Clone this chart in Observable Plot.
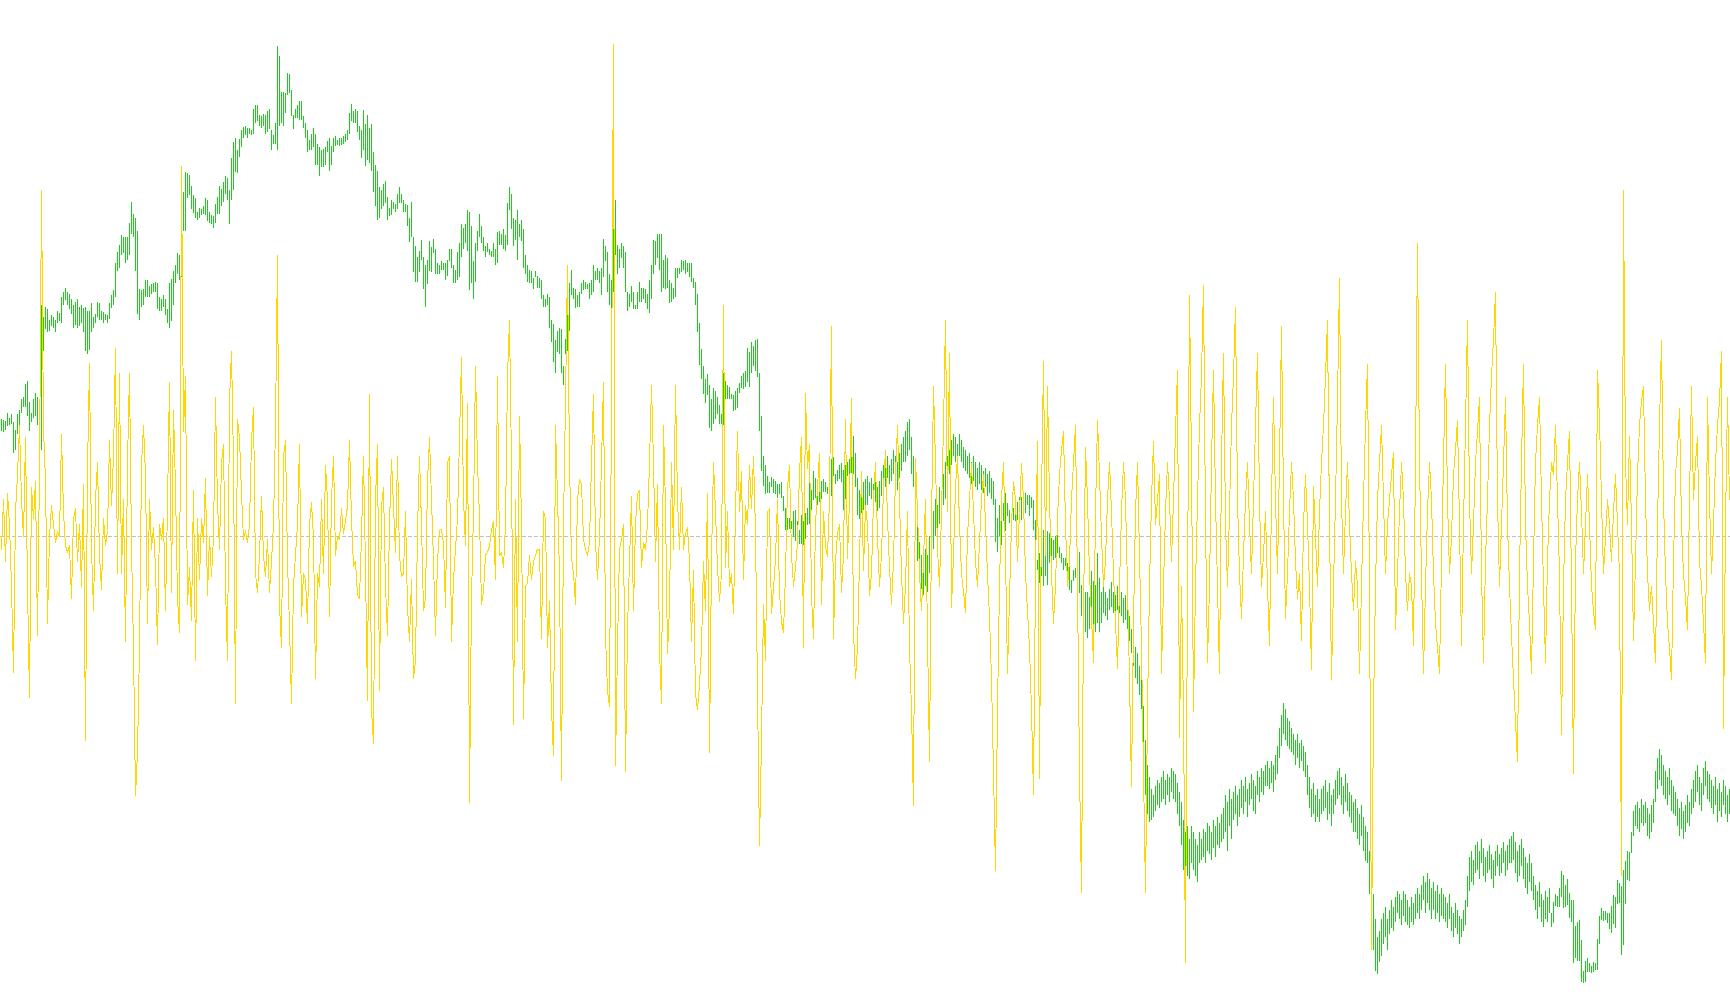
<!DOCTYPE html>
<html><head><meta charset="utf-8">
<script src="https://cdn.jsdelivr.net/npm/d3@7"></script>
<script src="https://cdn.jsdelivr.net/npm/@observablehq/plot@0.6"></script>
<style>html,body{margin:0;padding:0;background:#fff;overflow:hidden}</style>
</head><body><div id="chart"></div>
<script>
// Readings measured downward on the chart grid (0 = top of grid); level = TOP_LEVEL - reading
const barTop = [
630,632,634,620,628,622,635,648,622,615,598,595,574,568,602,620,598,588,594,632,445,465,448,452,470,462,465,470,455,458,432,425,418,425,428,435,445,440,435,448,445,450,448,455,455,442,465,460,440,442,455,457,460,462,443,430,422,378,360,348,332,335,335,335,312,278,298,305,325,420,422,420,
405,405,415,412,410,408,410,432,435,430,435,452,410,403,390,380,362,365,340,263,230,232,235,252,268,272,295,288,290,285,272,276,295,300,302,282,270,252,258,246,236,240,260,208,182,175,195,176,162,157,155,158,158,162,128,122,122,138,140,136,138,132,128,162,170,150,26,42,100,100,102,70,72,
97,138,128,122,115,115,140,150,162,178,168,158,168,185,190,195,192,190,180,175,188,175,172,178,175,175,172,168,162,135,120,132,128,132,155,162,130,152,138,158,152,198,218,228,255,260,250,245,270,288,275,278,282,265,255,265,275,282,283,305,278,335,350,368,358,340,368,380,372,342,352,338,
355,378,380,375,378,378,372,355,355,380,388,360,345,315,320,315,292,295,318,375,345,325,298,318,335,350,345,355,358,345,355,328,325,330,322,332,280,255,265,305,308,292,315,308,322,365,380,388,390,402,390,398,402,405,430,435,428,432,470,476,502,488,482,485,545,500,450,410,388,418,420,430,425,
410,405,408,412,410,405,380,390,385,390,385,338,350,360,395,405,315,275,348,355,345,350,360,425,428,415,425,445,425,408,418,418,420,428,405,380,340,342,330,330,330,372,365,370,405,410,418,385,385,385,372,375,372,378,378,378,402,408,428,475,516,545,565,558,575,598,580,585,595,608,622,555,
568,575,578,590,592,585,580,572,560,555,552,515,522,505,512,502,500,555,625,690,705,722,732,724,728,730,735,735,732,755,775,790,790,795,780,778,795,810,785,795,782,775,730,745,715,725,740,730,730,728,732,740,730,695,692,720,712,705,702,712,705,700,695,685,658,685,725,745,755,732,728,722,732,
725,735,720,740,730,715,705,700,690,705,695,680,690,700,685,670,660,650,635,630,660,690,720,780,830,850,860,840,850,820,800,780,760,770,740,745,720,700,690,680,665,655,660,670,655,665,675,680,690,685,700,690,700,710,700,705,715,710,720,715,725,730,760,790,770,
788,766,750,766,777,783,775,783,764,756,756,750,750,753,753,756,761,793,858,847,810,810,812,812,815,823,826,819,818,837,847,856,856,864,869,891,874,872,856,845,899,901,910,910,918,877,893,899,847,888,
910,900,910,920,905,895,910,915,900,905,910,920,915,930,950,970,990,1000,1010,1030,1050,1095,1150,1190,1210,1230,1240,
1225,1215,1220,1210,1200,1215,1205,1210,1195,1200,1205,1220,1235,1250,1280,1300,1290,1310,1290,1300,1310,
1320,1300,1310,1295,1300,1285,1290,1300,1280,1290,1275,1285,1270,1260,1240,1250,1230,1245,1235,1225,1240,1230,
1215,1225,1210,1230,1220,1205,1215,1225,1200,1210,1195,1200,1190,1185,1195,1185,1190,1175,1160,1130,1110,1090,1100,1115,1120,
1130,1140,1150,1140,1155,1150,1160,1170,1190,1210,1230,1220,1240,1230,1245,1230,1225,1215,1235,1220,1240,1230,1215,1200,
1195,1210,1225,1205,1220,1235,1240,1250,1245,1260,1270,1255,1275,1290,1300,1330,1370,1400,1440,1470,1460,
1440,1430,1420,1440,1425,1410,1420,1405,1395,1400,1410,1395,1400,1410,1420,1405,1415,1400,1390,1400,1385,
1370,1380,1365,1375,1390,1380,1395,1385,1400,1390,1400,1405,1415,1400,1420,1430,1415,1425,1435,1440,1425,1410,
1370,1340,1330,1345,1320,1315,1330,1310,1325,1340,1330,1320,1335,1345,1330,1320,1335,1325,1315,1330,1320,1310,
1305,1300,1315,1330,1320,1310,1325,1340,1350,1335,1350,1370,1385,1395,1380,1400,1410,1395,1405,1390,
1430,1412,1400,1403,1390,1362,1369,1385,1376,1398,1409,1409,1452,1445,1442,1474,1524,1508,1503,1511,1516,1510,1511,1473,1435,1422,1428,1428,1431,1430,1419,1401,1404,1377,1382,1387,1361,1346,1330,1331,1300,
1265,1255,1250,1260,1245,1255,1250,1260,1270,1255,1245,1200,1180,1165,1175,1190,1200,1210,1195,1215,1225,1235,
1245,1260,1250,1265,1255,1240,1250,1230,1215,1200,1190,1210,1220,1195,1185,1200,1205,1215,1225,1210,1230,1220,1235,1215,1225,1240,1230
];
const barBottom = [
650,652,648,642,640,638,685,680,655,640,620,610,610,625,650,635,628,625,640,713,680,520,485,490,488,480,482,490,475,472,475,445,438,445,452,460,482,478,482,480,475,490,520,525,518,490,482,475,465,470,470,475,470,475,468,450,445,432,390,385,365,362,378,372,365,330,335,390,460,470,448,445,
432,432,432,428,425,425,452,455,455,448,462,475,482,472,445,410,395,405,400,325,325,272,268,290,296,305,308,305,300,298,300,310,312,315,320,312,298,298,285,278,265,275,315,275,260,230,232,205,190,175,170,175,168,170,168,150,148,155,158,155,168,165,160,195,185,185,195,155,150,155,135,105,102,
140,160,142,142,145,145,158,175,198,195,195,190,218,218,237,222,222,218,198,228,218,198,188,186,188,186,184,182,178,168,148,150,150,165,178,208,195,220,210,215,228,262,285,308,305,290,285,280,308,302,300,290,295,290,280,280,295,295,318,343,335,392,408,408,392,372,420,448,412,390,392,362,
395,395,395,388,388,405,398,375,385,410,410,405,400,368,355,345,358,422,410,435,408,358,335,345,358,368,360,365,368,368,380,378,348,348,355,358,348,292,322,350,340,372,335,342,385,395,408,410,410,420,400,418,418,435,448,448,445,482,505,538,555,522,525,555,575,525,520,488,430,435,450,448,448,
428,422,420,420,435,430,425,405,405,410,430,400,375,425,445,455,425,365,395,385,370,385,425,455,448,440,452,452,452,440,440,435,442,452,458,435,395,380,370,388,425,418,420,418,442,440,435,432,402,395,392,388,395,392,400,408,418,445,490,542,565,590,605,592,645,650,638,630,622,638,638,640,
598,598,598,598,618,615,612,588,580,582,578,570,578,555,545,552,562,650,715,738,752,750,750,740,750,752,758,752,758,780,810,810,808,808,822,828,830,832,832,835,825,802,800,778,762,758,770,765,760,748,748,752,760,755,722,735,730,728,732,778,760,722,720,718,720,740,785,792,782,778,770,770,755,
760,770,765,780,775,755,745,740,725,735,730,720,735,745,725,715,700,700,690,680,720,740,800,860,890,905,915,900,910,880,850,840,820,815,800,790,770,760,740,720,705,690,700,705,690,700,710,715,720,725,735,730,740,745,735,745,750,740,755,750,760,770,830,845,820,
834,796,812,788,799,793,793,796,793,785,793,785,783,769,788,775,810,875,874,896,885,901,885,899,864,866,858,856,847,856,864,874,869,877,907,912,893,888,901,912,950,960,975,985,970,955,965,975,960,975,
960,945,950,955,940,935,945,950,940,945,950,960,955,970,990,1010,1030,1050,1060,1077,1100,1180,1240,1270,1283,1280,1275,
1265,1255,1260,1250,1245,1255,1240,1250,1235,1245,1250,1270,1290,1320,1360,1381,1370,1375,1350,1360,1370,
1380,1350,1345,1340,1350,1330,1335,1345,1325,1340,1320,1325,1315,1310,1300,1330,1290,1310,1280,1270,1290,1275,
1260,1270,1250,1275,1255,1245,1265,1270,1240,1250,1235,1240,1225,1225,1230,1220,1235,1215,1205,1180,1160,1140,1150,1160,1165,
1170,1175,1190,1180,1195,1185,1200,1210,1240,1260,1275,1270,1283,1275,1283,1270,1265,1260,1280,1270,1290,1270,1255,1245,
1240,1255,1270,1250,1265,1275,1285,1300,1300,1310,1320,1305,1330,1346,1350,1400,1450,1490,1524,1530,1510,
1500,1480,1470,1490,1465,1455,1460,1445,1430,1440,1450,1435,1445,1450,1455,1445,1450,1440,1430,1440,1425,
1410,1430,1415,1425,1440,1425,1440,1430,1445,1435,1440,1445,1455,1440,1460,1470,1455,1465,1480,1470,1460,1450,
1420,1395,1380,1385,1365,1360,1375,1350,1370,1380,1365,1360,1375,1390,1370,1355,1370,1365,1350,1370,1360,1350,
1350,1345,1365,1380,1370,1355,1375,1390,1399,1380,1395,1410,1425,1440,1420,1445,1453,1440,1445,1430,
1453,1447,1419,1421,1420,1404,1423,1421,1418,1439,1445,1511,1504,1508,1508,1542,1544,1543,1526,1526,1528,1526,1523,1523,1481,1442,1443,1442,1446,1456,1463,1448,1454,1416,1415,1499,1482,1416,1377,1378,1334,
1305,1290,1295,1300,1285,1290,1285,1305,1310,1300,1285,1250,1230,1215,1225,1240,1245,1255,1240,1265,1270,1274,
1290,1305,1295,1310,1300,1285,1290,1270,1260,1250,1235,1255,1265,1240,1225,1245,1250,1260,1270,1255,1283,1265,1275,1255,1270,1283,1270
];
const oscReading = [
840,760,860,750,800,900,1040,780,720,640,760,820,660,900,1080,740,790,730,980,712,260,645,730,960,820,770,800,830,812,820,655,780,835,845,835,920,790,775,860,800,900,735,1150,710,540,840,940,760,700,850,905,790,835,810,665,770,690,515,880,555,880,760,990,700,555,835,1000,1240,1170,1000,705,640,
720,960,760,840,805,870,995,800,825,790,940,770,570,910,615,740,920,975,220,650,560,930,870,955,745,1020,790,890,790,830,725,915,820,885,820,595,765,840,700,670,900,1020,600,520,700,1090,630,660,750,825,810,830,800,665,610,880,910,850,755,850,885,825,910,860,800,640,365,930,1000,690,665,860,965,
1090,900,850,800,670,950,880,890,960,800,765,820,1050,880,900,760,880,705,760,950,760,690,850,820,825,775,815,795,770,665,790,868,860,915,920,820,690,870,1085,590,1100,1155,760,670,1070,770,740,900,980,800,695,770,845,690,850,885,880,780,935,990,890,1050,1020,810,690,800,940,920,730,660,760,860,
980,860,810,808,830,935,700,690,990,890,840,790,660,530,760,835,605,1250,920,780,545,700,790,930,910,850,845,835,810,795,890,560,850,845,870,800,560,470,700,1125,760,990,625,800,1115,900,895,850,890,860,850,840,840,985,780,790,1000,925,1100,1175,640,755,880,1215,800,600,380,700,855,880,930,760,728,
735,825,840,850,830,700,590,830,890,820,700,570,980,1070,1095,600,22,1190,1000,840,825,800,1200,970,860,755,940,800,750,745,870,830,840,800,700,575,700,860,735,1005,1090,640,770,1010,935,700,840,575,760,840,740,840,815,805,860,990,875,1075,1100,1060,1000,860,940,750,1170,855,700,780,870,925,880,445,
870,780,900,880,945,780,650,780,715,890,770,800,705,775,690,810,1070,1320,1150,930,1020,780,775,945,905,855,760,910,958,975,880,740,705,850,900,870,830,715,660,1000,588,710,670,915,985,800,740,685,930,780,835,852,760,480,985,860,815,800,910,850,630,855,760,596,975,1050,1000,860,715,875,770,800,915,
880,760,700,820,900,850,740,680,790,870,930,860,720,640,760,880,960,900,780,1000,1100,1256,693,780,880,940,860,760,980,1185,800,577,700,840,900,780,640,470,780,523,
934,850,740,690,800,880,910,943,820,760,702,780,860,900,830,760,720,800,880,950,1050,1200,1360,1100,900,760,700,850,1042,920,800,730,760,860,780,702,760,880,940,1000,
1100,1238,880,666,1212,760,536,850,577,760,880,960,900,790,720,680,649,800,900,860,760,700,640,900,1200,1396,950,675,760,880,950,1024,780,631,720,820,900,860,760,700,
780,880,960,1033,900,780,700,760,900,1050,1224,960,780,700,850,1000,1200,1396,1100,900,760,666,800,760,720,1042,900,780,700,760,860,760,650,550,1145,900,1100,1510,900,430,
700,1104,900,760,640,560,413,800,1024,900,700,550,760,900,1042,700,523,800,900,780,640,560,448,760,880,952,850,760,700,800,880,760,640,523,760,900,850,780,900,997,
760,595,760,880,700,480,760,952,880,780,700,760,860,920,880,988,800,720,800,900,1035,738,820,900,780,700,640,560,470,800,1051,900,760,600,402,760,880,780,700,800,
880,940,860,900,1042,900,760,640,541,900,1489,1100,900,760,700,640,760,880,800,760,720,684,970,880,780,700,760,880,940,880,900,997,700,345,700,880,1042,900,780,700,
760,880,960,1000,1042,860,700,541,760,880,820,720,680,631,800,997,800,640,470,760,880,800,700,650,595,880,1024,860,760,640,560,500,425,760,900,800,700,595,800,900,
980,1050,1120,1185,880,700,541,800,900,960,1042,860,700,640,595,760,900,1024,860,760,700,720,640,760,880,1140,900,760,700,649,900,1203,860,760,700,780,880,800,720,800,
900,940,970,550,631,760,880,820,760,800,860,780,720,800,880,1369,259,700,800,657,800,988,860,720,640,600,577,760,880,940,900,960,1024,800,640,502,760,880,960,1000,
1051,860,720,680,613,800,880,920,970,760,577,760,700,657,860,900,960,1024,595,760,880,800,700,640,600,520,1131,800,595,760
];
const TOP_LEVEL = 1600;
const OSC_ZERO_READING = 820;
const zeroLevel = TOP_LEVEL - OSC_ZERO_READING;
const bars = barTop.map((t, i) => ({x1: i - 0.25, x2: i + 0.25, high: TOP_LEVEL - t, low: TOP_LEVEL - barBottom[i]}));
const osc = oscReading.map((r, i) => ({i, v: OSC_ZERO_READING - r}));

const chart = Plot.plot({
  width: 1730, height: 1005, margin: 0,
  style: {background: "#fff"},
  x: {domain: [0, 864], range: [1, 1729], axis: null},
  y: {domain: [20.5, 1648.6], range: [1005, 0], axis: null},
  marks: [
    Plot.ruleY([zeroLevel], {stroke: "#c0c0c0", strokeWidth: 1, strokeDasharray: "4,2", shapeRendering: "crispEdges"}),
    Plot.rect(bars, {x1: "x1", x2: "x2", y1: "low", y2: "high", fill: "#18d018", shapeRendering: "crispEdges"}),
    Plot.line(osc, {x: "i", y: d => zeroLevel + d.v, stroke: "#FFD700", strokeWidth: 1, shapeRendering: "crispEdges"})
  ]
});
document.getElementById("chart").appendChild(chart);
</script></body></html>
